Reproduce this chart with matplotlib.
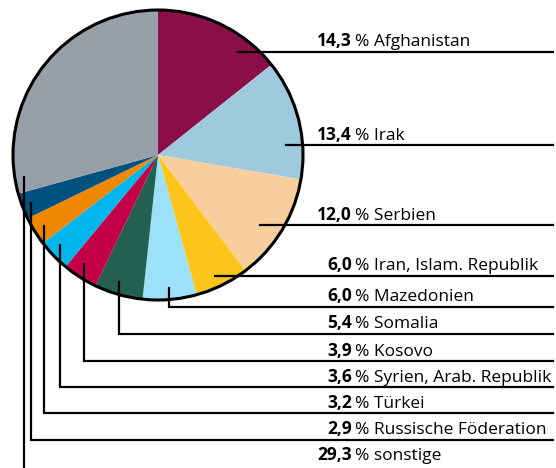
import matplotlib.pyplot as plt
import numpy as np

# Anteile in Prozent, im Uhrzeigersinn ab 12 Uhr
laender = ["Afghanistan", "Irak", "Serbien", "Iran, Islam. Republik", "Mazedonien",
           "Somalia", "Kosovo", "Syrien, Arab. Republik", "Türkei",
           "Russische Föderation", "sonstige"]
anteile = [14.3, 13.4, 12.0, 6.0, 6.0, 5.4, 3.9, 3.6, 3.2, 2.9, 29.3]
farben = ["#8a0f48", "#9fc9dc", "#f8cf9c", "#fdc51a", "#9ce1f8", "#24604f",
          "#c30047", "#00b6ed", "#f08700", "#005080", "#979fa9"]

W, H = 556, 468
plt.rcParams['font.family'] = ['Open Sans', 'DejaVu Sans']

fig = plt.figure(figsize=(W / 100, H / 100), dpi=100)
ax = fig.add_axes([0, 0, 1, 1])

cx, cy, r = 158, H - 155, 145
wedges, _ = ax.pie(anteile, colors=farben, startangle=90, counterclock=False,
                   center=(cx, cy), radius=r, frame=True,
                   wedgeprops=dict(linewidth=0))
ax.add_patch(plt.Circle((cx, cy), r, fill=False, lw=2.2, color='black', zorder=5))
ax.set_xlim(0, W)
ax.set_ylim(0, H)
ax.set_aspect('equal')
ax.axis('off')

# Führungslinien (Bildkoordinaten: Startpunkt x, Start-y, Linien-y)
x_end = 553
leader = [
    (238, 51.7, 51.7),
    (286, 145, 145),
    (260, 225, 225),
    (215, 276, 276),
    (169, 288, 306.5),
    (119, 282, 334),
    (84, 264, 361),
    (60, 245, 387),
    (44, 226, 413),
    (31, 203, 440),
    (24, 177, None),
]
lw = 1.6
for i, (x0, y0, yl) in enumerate(leader):
    if yl is None:
        ax.plot([x0, x0], [H - y0, 0], color='black', lw=lw, zorder=6)
        ty = 460
    else:
        if yl != y0:
            ax.plot([x0, x0, x_end], [H - y0, H - yl, H - yl], color='black', lw=lw,
                    zorder=6, solid_joinstyle='miter')
        else:
            ax.plot([x0, x_end], [H - yl, H - yl], color='black', lw=lw, zorder=6)
        ty = yl - 5.5
    num = f"{anteile[i]:.1f}".replace('.', ',')
    ax.text(352, H - ty, num, ha='right', va='baseline', fontsize=12.5,
            fontweight='bold', zorder=7)
    ax.text(355, H - ty, "% " + laender[i], ha='left', va='baseline', fontsize=12.5,
            zorder=7)

fig.savefig("out.png", dpi=100)
